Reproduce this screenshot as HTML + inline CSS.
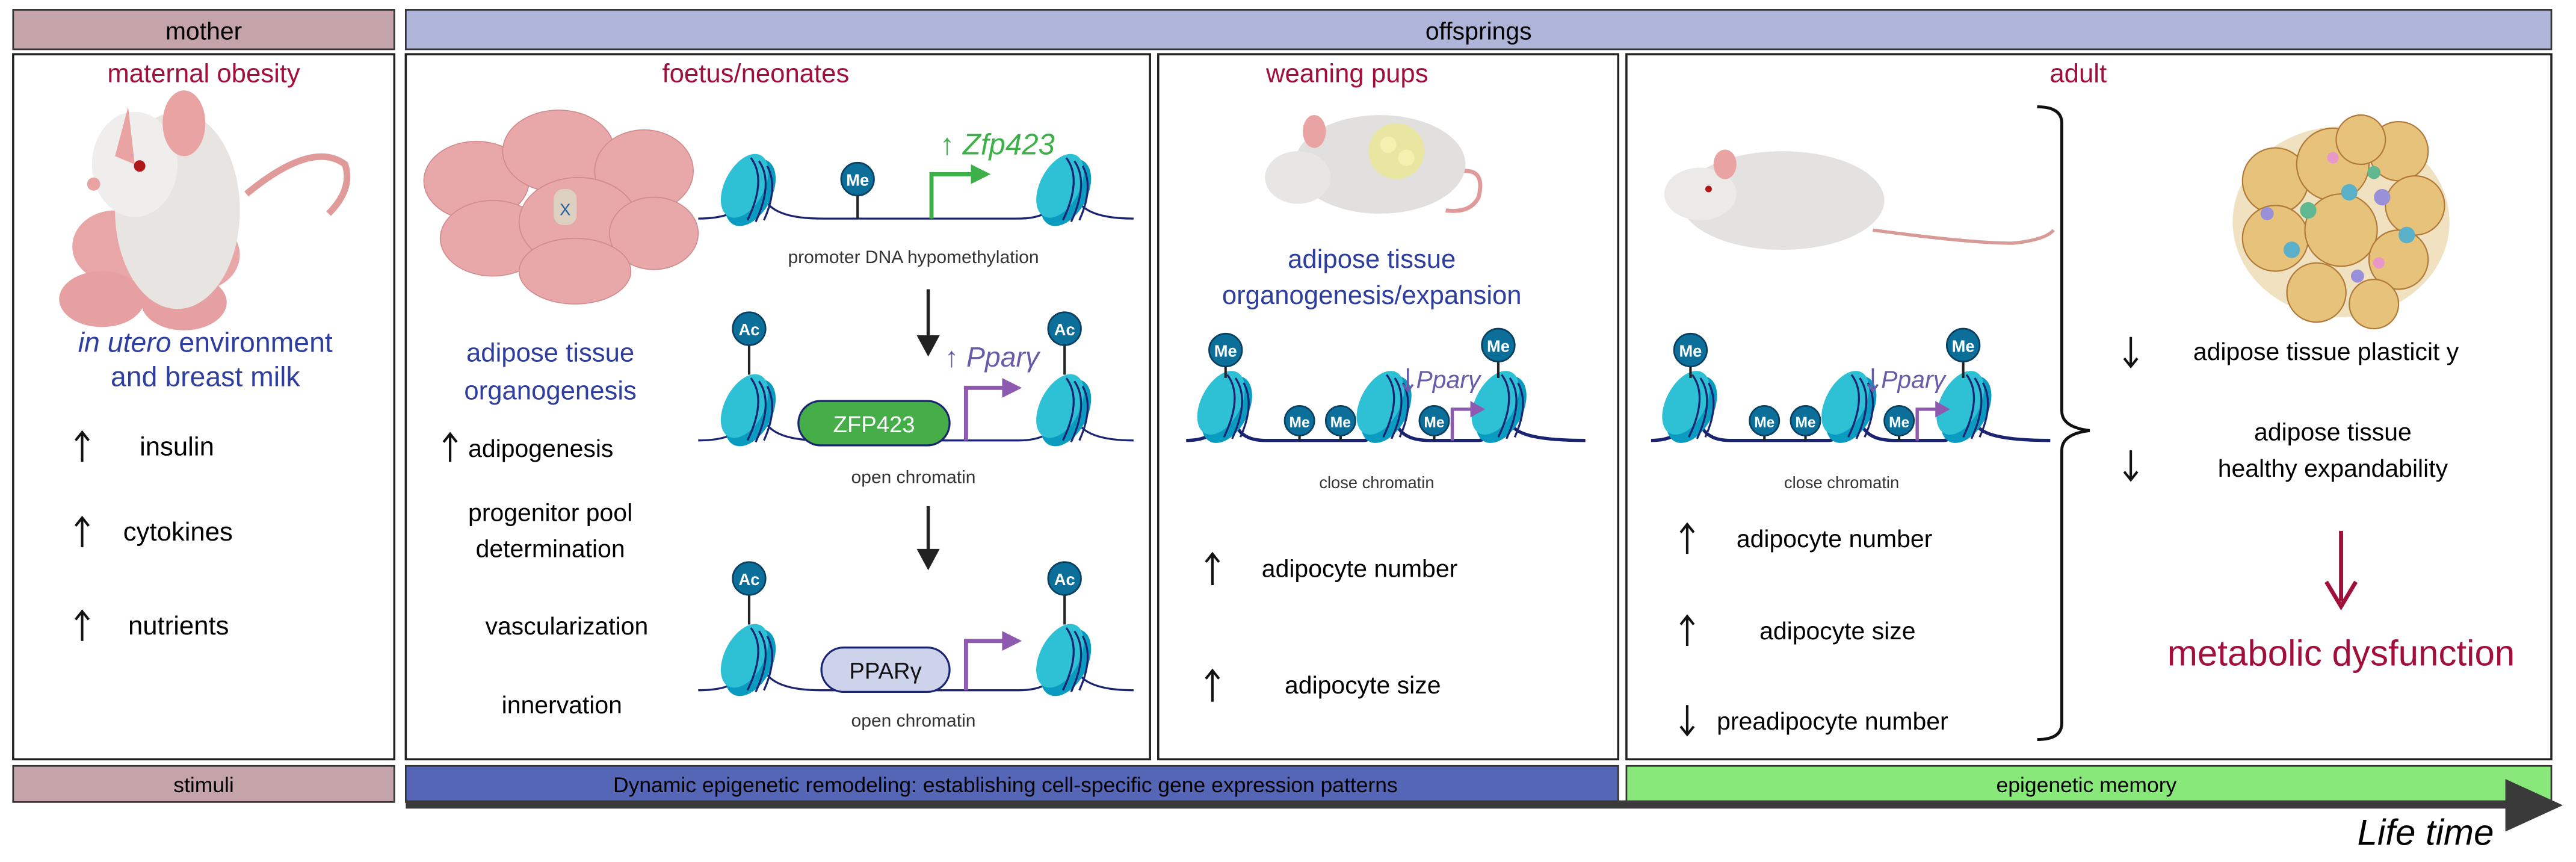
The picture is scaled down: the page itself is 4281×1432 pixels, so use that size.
<!DOCTYPE html>
<html><head><meta charset="utf-8"><style>
html,body{margin:0;padding:0;background:#fff;}
svg{display:block;}
text{font-family:"Liberation Sans",sans-serif;}
</style></head><body>
<svg width="4281" height="1432" viewBox="0 0 1568 524.5" xmlns="http://www.w3.org/2000/svg">
<defs>
<g id="nuc">
  <ellipse cx="3" cy="2" rx="13" ry="22" transform="rotate(28)" fill="#0a9cc0"/>
  <ellipse cx="-2" cy="0" rx="12" ry="21" transform="rotate(28)" fill="#2ec0d4"/>
  <path d="M2,-18 Q12,-5 0,20 M7,-16 Q16,-3 5,21 M12,-13 Q19,0 10,20" stroke="#1b2470" stroke-width="1.2" fill="none"/>
</g>
</defs>
<rect width="1568" height="524.5" fill="#fff"/>
<rect x="8" y="6" width="232" height="24" fill="#c4a3a9" stroke="#333" stroke-width="1"/>
<text x="124" y="24" font-size="15" text-anchor="middle">mother</text>
<rect x="247" y="6" width="1306" height="24" fill="#aeb5d8" stroke="#333" stroke-width="1"/>
<text x="900" y="24" font-size="15" text-anchor="middle">offsprings</text>
<g fill="none" stroke="#222" stroke-width="1.3">
<rect x="8" y="33" width="232" height="429"/>
<rect x="247" y="33" width="453" height="429"/>
<rect x="705" y="33" width="280" height="429"/>
<rect x="990" y="33" width="563" height="429"/>
</g>
<rect x="8" y="466" width="232" height="22" fill="#c4a3a9" stroke="#333"/>
<text x="124" y="482" font-size="13" text-anchor="middle">stimuli</text>
<rect x="247" y="466" width="738" height="22" fill="#5666b6" stroke="#333"/>
<text x="612" y="482" font-size="13" text-anchor="middle">Dynamic epigenetic remodeling: establishing cell-specific gene expression patterns</text>
<rect x="990" y="466" width="563" height="22" fill="#88e87a" stroke="#333"/>
<text x="1270" y="482" font-size="13" text-anchor="middle">epigenetic memory</text>
<rect x="247" y="487" width="1280" height="5" fill="#3a3a3a"/>
<polygon points="1525,474 1560,490 1525,506" fill="#3a3a3a"/>
<text x="1518" y="514" font-size="22" font-style="italic" text-anchor="end">Life time</text>
<g fill="#a0103a" font-size="16" text-anchor="middle">
<text x="124" y="50">maternal obesity</text>
<text x="460" y="50">foetus/neonates</text>
<text x="820" y="50">weaning pups</text>
<text x="1265" y="50">adult</text>
</g>
<g>
<ellipse cx="70" cy="150" rx="26" ry="22" fill="#e8a6a6"/>
<ellipse cx="120" cy="155" rx="26" ry="22" fill="#e8a6a6"/>
<ellipse cx="62" cy="182" rx="26" ry="17" fill="#e6a0a2"/>
<ellipse cx="112" cy="184" rx="26" ry="17" fill="#e6a0a2"/>
<path d="M150,118 Q190,85 210,100 Q215,115 200,130" stroke="#e09a9a" stroke-width="4" fill="none"/>
<ellipse cx="108" cy="128" rx="38" ry="60" fill="#e8e4e2"/>
<ellipse cx="82" cy="100" rx="26" ry="32" fill="#f0eeec"/>
<ellipse cx="112" cy="75" rx="13" ry="20" fill="#e9a3a3"/>
<path d="M78,65 L82,100 L70,95 Z" fill="#e9a3a3"/>
<circle cx="85" cy="101" r="3.5" fill="#b01818"/>
<circle cx="57" cy="112" r="4" fill="#e9a3a3"/>
</g>
<g fill="#2d3e9e" font-size="17" text-anchor="middle">
<text x="125" y="214"><tspan font-style="italic">in utero</tspan> environment</text>
<text x="125" y="235">and breast milk</text>
</g>
<g stroke="#111" stroke-width="1.5" fill="none">
<path d="M50,281 L50,263 M46,268 L50,263 L54,268"/>
<path d="M50,333 L50,315 M46,320 L50,315 L54,320"/>
<path d="M50,390 L50,372 M46,377 L50,372 L54,377"/>
<path d="M274,281 L274,264 M270,269 L274,264 L278,269"/>
<path d="M738,356 L738,337 M734,342 L738,337 L742,342"/>
<path d="M738,427 L738,408 M734,413 L738,408 L742,413"/>
<path d="M1027,337 L1027,319 M1023,324 L1027,319 L1031,324"/>
<path d="M1027,393 L1027,375 M1023,380 L1027,375 L1031,380"/>
<path d="M1027,429 L1027,447 M1023,442 L1027,447 L1031,442"/>
<path d="M1297,205 L1297,223 M1293,218 L1297,223 L1301,218"/>
<path d="M1297,274 L1297,292 M1293,287 L1297,292 L1301,287"/>
</g>
<g font-size="16">
<text x="85" y="277">insulin</text>
<text x="75" y="329">cytokines</text>
<text x="78" y="386">nutrients</text>
</g>
<g fill="#e8a8aa" stroke="#d08a8c" stroke-width="0.6">
<ellipse cx="290" cy="110" rx="32" ry="24"/>
<ellipse cx="340" cy="92" rx="34" ry="25"/>
<ellipse cx="392" cy="104" rx="30" ry="25"/>
<ellipse cx="300" cy="145" rx="32" ry="23"/>
<ellipse cx="352" cy="135" rx="36" ry="27"/>
<ellipse cx="398" cy="142" rx="27" ry="22"/>
<ellipse cx="350" cy="165" rx="34" ry="20"/>
</g>
<rect x="337" y="115" width="14" height="22" rx="6" fill="#ddd0c0"/>
<text x="344" y="131" font-size="10" fill="#2060a0" text-anchor="middle">X</text>
<g fill="#2d3e9e" font-size="16" text-anchor="middle">
<text x="335" y="220">adipose tissue</text>
<text x="335" y="243">organogenesis</text>
</g>
<g font-size="15">
<text x="285" y="278">adipogenesis</text>
<text x="335" y="317" text-anchor="middle">progenitor pool</text>
<text x="335" y="339" text-anchor="middle">determination</text>
<text x="345" y="386" text-anchor="middle">vascularization</text>
<text x="342" y="434" text-anchor="middle">innervation</text>
</g>
<path d="M425,133 Q450,133 455,120 M465,120 Q470,133 500,133 L620,133 Q640,133 645,120 M655,120 Q660,133 690,133" stroke="#1b2470" stroke-width="1.2" fill="none"/>
<use href="#nuc" x="455" y="114"/>
<use href="#nuc" x="647" y="114"/>
<line x1="522" y1="117" x2="522" y2="133" stroke="#222" stroke-width="1.5"/>
<circle cx="522" cy="109" r="10" fill="#0b6f9a" stroke="#0a3f60"/>
<text x="522" y="113" font-size="10" fill="#fff" text-anchor="middle" font-weight="bold">Me</text>
<path d="M567,133 L567,106 L593,106" stroke="#3db04a" stroke-width="2.5" fill="none"/>
<polygon points="591,100 603,106 591,112" fill="#3db04a"/>
<text x="572" y="94" font-size="18" font-style="italic" fill="#3db04a">↑ Zfp423</text>
<text x="556" y="160" font-size="11" fill="#333" text-anchor="middle">promoter DNA hypomethylation</text>
<line x1="565" y1="176" x2="565" y2="206" stroke="#222" stroke-width="2"/>
<polygon points="558,204 572,204 565,217" fill="#222"/>
<path d="M425,268 Q450,268 455,255 M465,255 Q470,268 500,268 L620,268 Q640,268 645,255 M655,255 Q660,268 690,268" stroke="#1b2470" stroke-width="1.2" fill="none"/>
<use href="#nuc" x="455" y="248"/>
<use href="#nuc" x="647" y="248"/>
<line x1="456" y1="208" x2="456" y2="228" stroke="#222" stroke-width="1.5"/>
<circle cx="456" cy="200" r="10" fill="#0b6f9a" stroke="#0a3f60"/>
<text x="456" y="204" font-size="10" fill="#fff" text-anchor="middle" font-weight="bold">Ac</text>
<line x1="648" y1="208" x2="648" y2="228" stroke="#222" stroke-width="1.5"/>
<circle cx="648" cy="200" r="10" fill="#0b6f9a" stroke="#0a3f60"/>
<text x="648" y="204" font-size="10" fill="#fff" text-anchor="middle" font-weight="bold">Ac</text>
<rect x="486" y="244" width="92" height="27" rx="13.5" fill="#45ae48" stroke="#1b2470" stroke-width="1.2"/>
<text x="532" y="263" font-size="14" fill="#fff" text-anchor="middle">ZFP423</text>
<path d="M588,268 L588,236 L612,236" stroke="#8e5ab0" stroke-width="2.5" fill="none"/>
<polygon points="610,230 622,236 610,242" fill="#8e5ab0"/>
<text x="575" y="223" font-size="17" font-style="italic" fill="#6a5aaa">↑ Pparγ</text>
<text x="556" y="294" font-size="11" fill="#333" text-anchor="middle">open chromatin</text>
<line x1="565" y1="308" x2="565" y2="336" stroke="#222" stroke-width="2"/>
<polygon points="558,334 572,334 565,347" fill="#222"/>
<path d="M425,420 Q450,420 455,407 M465,407 Q470,420 500,420 L620,420 Q640,420 645,407 M655,407 Q660,420 690,420" stroke="#1b2470" stroke-width="1.2" fill="none"/>
<use href="#nuc" x="455" y="400"/>
<use href="#nuc" x="647" y="400"/>
<line x1="456" y1="360" x2="456" y2="380" stroke="#222" stroke-width="1.5"/>
<circle cx="456" cy="352" r="10" fill="#0b6f9a" stroke="#0a3f60"/>
<text x="456" y="356" font-size="10" fill="#fff" text-anchor="middle" font-weight="bold">Ac</text>
<line x1="648" y1="360" x2="648" y2="380" stroke="#222" stroke-width="1.5"/>
<circle cx="648" cy="352" r="10" fill="#0b6f9a" stroke="#0a3f60"/>
<text x="648" y="356" font-size="10" fill="#fff" text-anchor="middle" font-weight="bold">Ac</text>
<rect x="500" y="394" width="78" height="27" rx="13.5" fill="#cdd3ea" stroke="#1b2470" stroke-width="1.2"/>
<text x="539" y="413" font-size="14" fill="#111" text-anchor="middle">PPARγ</text>
<path d="M588,420 L588,390 L612,390" stroke="#8e5ab0" stroke-width="2.5" fill="none"/>
<polygon points="610,384 622,390 610,396" fill="#8e5ab0"/>
<text x="556" y="442" font-size="11" fill="#333" text-anchor="middle">open chromatin</text>
<path d="M885,105 Q905,100 900,120 Q895,130 880,128" stroke="#e09a9a" stroke-width="2.5" fill="none"/>
<ellipse cx="840" cy="100" rx="52" ry="30" fill="#e2e0de"/>
<ellipse cx="790" cy="108" rx="20" ry="16" fill="#e8e6e4"/>
<ellipse cx="800" cy="80" rx="7" ry="10" fill="#e9a3a3"/>
<circle cx="850" cy="92" r="17" fill="#e8e6a0"/>
<circle cx="845" cy="88" r="5" fill="#f4f0b0"/><circle cx="856" cy="96" r="5" fill="#f4f0b0"/>
<g fill="#2d3e9e" font-size="16" text-anchor="middle">
<text x="835" y="163">adipose tissue</text>
<text x="835" y="185">organogenesis/expansion</text>
</g>
<g>
<path d="M722,268 Q738,268 742,258 M752,258 Q756,268 770,268 L830,268 Q836,268 840,258 M850,258 Q854,268 870,268 L900,268 Q906,268 910,258 M920,258 Q924,268 965,268" stroke="#1b2470" stroke-width="2" fill="none"/>
<use href="#nuc" x="745" y="246"/>
<use href="#nuc" x="842" y="246"/>
<use href="#nuc" x="912" y="246"/>
<line x1="746" y1="220" x2="746" y2="230" stroke="#222" stroke-width="1.5"/>
<circle cx="746" cy="213" r="10" fill="#0b6f9a" stroke="#0a3f60"/>
<text x="746" y="217" font-size="10" fill="#fff" text-anchor="middle" font-weight="bold">Me</text>
<line x1="912" y1="217" x2="912" y2="230" stroke="#222" stroke-width="1.5"/>
<circle cx="912" cy="210" r="10" fill="#0b6f9a" stroke="#0a3f60"/>
<text x="912" y="214" font-size="10" fill="#fff" text-anchor="middle" font-weight="bold">Me</text>
<line x1="791" y1="262" x2="791" y2="268" stroke="#222" stroke-width="1.5"/>
<circle cx="791" cy="256" r="9" fill="#0b6f9a" stroke="#0a3f60"/>
<text x="791" y="260" font-size="9" fill="#fff" text-anchor="middle" font-weight="bold">Me</text>
<line x1="816" y1="262" x2="816" y2="268" stroke="#222" stroke-width="1.5"/>
<circle cx="816" cy="256" r="9" fill="#0b6f9a" stroke="#0a3f60"/>
<text x="816" y="260" font-size="9" fill="#fff" text-anchor="middle" font-weight="bold">Me</text>
<line x1="873" y1="262" x2="873" y2="268" stroke="#222" stroke-width="1.5"/>
<circle cx="873" cy="256" r="9" fill="#0b6f9a" stroke="#0a3f60"/>
<text x="873" y="260" font-size="9" fill="#fff" text-anchor="middle" font-weight="bold">Me</text>
<path d="M884,268 L884,249 L896,249" stroke="#8e5ab0" stroke-width="2" fill="none"/>
<polygon points="895,244 904,249 895,254" fill="#8e5ab0"/>
<path d="M857,224 L857,238 M854,234 L857,238 L860,234" stroke="#6a5aaa" stroke-width="1.3" fill="none"/>
<text x="862" y="236" font-size="15" font-style="italic" fill="#6a5aaa">Pparγ</text>
<text x="838" y="297" font-size="10" fill="#333" text-anchor="middle">close chromatin</text>
</g>
<g transform="translate(283,0)">
<path d="M722,268 Q738,268 742,258 M752,258 Q756,268 770,268 L830,268 Q836,268 840,258 M850,258 Q854,268 870,268 L900,268 Q906,268 910,258 M920,258 Q924,268 965,268" stroke="#1b2470" stroke-width="2" fill="none"/>
<use href="#nuc" x="745" y="246"/>
<use href="#nuc" x="842" y="246"/>
<use href="#nuc" x="912" y="246"/>
<line x1="746" y1="220" x2="746" y2="230" stroke="#222" stroke-width="1.5"/>
<circle cx="746" cy="213" r="10" fill="#0b6f9a" stroke="#0a3f60"/>
<text x="746" y="217" font-size="10" fill="#fff" text-anchor="middle" font-weight="bold">Me</text>
<line x1="912" y1="217" x2="912" y2="230" stroke="#222" stroke-width="1.5"/>
<circle cx="912" cy="210" r="10" fill="#0b6f9a" stroke="#0a3f60"/>
<text x="912" y="214" font-size="10" fill="#fff" text-anchor="middle" font-weight="bold">Me</text>
<line x1="791" y1="262" x2="791" y2="268" stroke="#222" stroke-width="1.5"/>
<circle cx="791" cy="256" r="9" fill="#0b6f9a" stroke="#0a3f60"/>
<text x="791" y="260" font-size="9" fill="#fff" text-anchor="middle" font-weight="bold">Me</text>
<line x1="816" y1="262" x2="816" y2="268" stroke="#222" stroke-width="1.5"/>
<circle cx="816" cy="256" r="9" fill="#0b6f9a" stroke="#0a3f60"/>
<text x="816" y="260" font-size="9" fill="#fff" text-anchor="middle" font-weight="bold">Me</text>
<line x1="873" y1="262" x2="873" y2="268" stroke="#222" stroke-width="1.5"/>
<circle cx="873" cy="256" r="9" fill="#0b6f9a" stroke="#0a3f60"/>
<text x="873" y="260" font-size="9" fill="#fff" text-anchor="middle" font-weight="bold">Me</text>
<path d="M884,268 L884,249 L896,249" stroke="#8e5ab0" stroke-width="2" fill="none"/>
<polygon points="895,244 904,249 895,254" fill="#8e5ab0"/>
<path d="M857,224 L857,238 M854,234 L857,238 L860,234" stroke="#6a5aaa" stroke-width="1.3" fill="none"/>
<text x="862" y="236" font-size="15" font-style="italic" fill="#6a5aaa">Pparγ</text>
<text x="838" y="297" font-size="10" fill="#333" text-anchor="middle">close chromatin</text>
</g>
<g font-size="15">
<text x="768" y="351">adipocyte number</text>
<text x="782" y="422">adipocyte size</text>
<text x="1057" y="333">adipocyte number</text>
<text x="1071" y="389">adipocyte size</text>
<text x="1045" y="444">preadipocyte number</text>
</g>
<path d="M1140,140 Q1200,148 1225,148 Q1245,146 1250,140" stroke="#d89a96" stroke-width="2" fill="none"/>
<ellipse cx="1085" cy="122" rx="62" ry="30" fill="#e4e2e0"/>
<ellipse cx="1035" cy="118" rx="22" ry="16" fill="#eceae8"/>
<ellipse cx="1050" cy="100" rx="7" ry="9" fill="#e9a3a3"/>
<circle cx="1040" cy="115" r="2" fill="#b01818"/>
<path d="M1240,65 Q1255,65 1255,75 L1255,250 Q1255,260 1272,262 Q1255,264 1255,274 L1255,440 Q1255,450 1240,450" stroke="#111" stroke-width="1.8" fill="none"/>
<g stroke="#b0793a" stroke-width="0.8">
<ellipse cx="1425" cy="135" rx="66" ry="58" fill="#f0e2c0" stroke="none"/>
<circle cx="1385" cy="110" r="20" fill="#e6c27a"/>
<circle cx="1420" cy="100" r="22" fill="#e6c27a"/>
<circle cx="1460" cy="92" r="18" fill="#e6c27a"/>
<circle cx="1470" cy="125" r="18" fill="#e6c27a"/>
<circle cx="1385" cy="145" r="20" fill="#e6c27a"/>
<circle cx="1425" cy="140" r="22" fill="#e6c27a"/>
<circle cx="1460" cy="158" r="18" fill="#e6c27a"/>
<circle cx="1410" cy="178" r="18" fill="#e6c27a"/>
<circle cx="1445" cy="185" r="15" fill="#e6c27a"/>
<circle cx="1437" cy="85" r="15" fill="#e6c27a"/>
</g>
<g>
<circle cx="1405" cy="128" r="5" fill="#60b890"/><circle cx="1430" cy="117" r="5" fill="#5ab0c8"/>
<circle cx="1395" cy="152" r="5" fill="#5ab0c8"/><circle cx="1435" cy="168" r="4" fill="#9890d8"/>
<circle cx="1450" cy="120" r="5" fill="#9890d8"/><circle cx="1465" cy="143" r="5" fill="#5ab0c8"/>
<circle cx="1380" cy="130" r="4" fill="#9890d8"/><circle cx="1445" cy="105" r="4" fill="#60b890"/>
<circle cx="1448" cy="160" r="3.5" fill="#e898c8"/><circle cx="1420" cy="96" r="3.5" fill="#e898c8"/>
</g>
<g font-size="15">
<text x="1335" y="219">adipose tissue plasticit y</text>
<text x="1420" y="268" text-anchor="middle">adipose tissue</text>
<text x="1420" y="290" text-anchor="middle">healthy expandability</text>
</g>
<line x1="1425" y1="323" x2="1425" y2="366" stroke="#a0103a" stroke-width="2.5"/>
<path d="M1416,354 L1425,369 L1434,354" stroke="#a0103a" stroke-width="2.5" fill="none"/>
<text x="1425" y="405" font-size="22" fill="#a0103a" text-anchor="middle">metabolic dysfunction</text>
</svg>
</body></html>
